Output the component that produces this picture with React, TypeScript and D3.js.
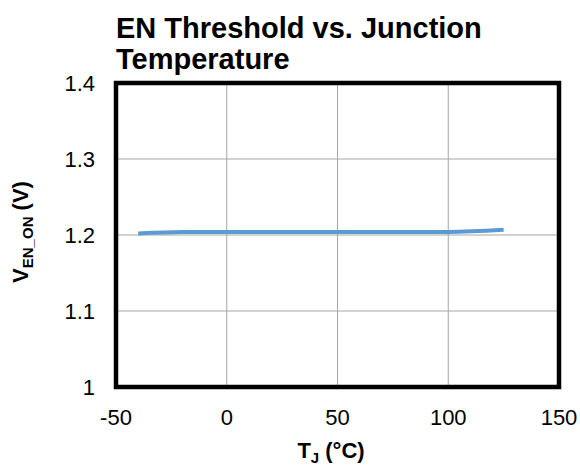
import React from "react";
import * as d3 from "d3";

const temps = [-40, -20, 0, 25, 50, 75, 100, 125];
const venOn = [1.202, 1.204, 1.204, 1.204, 1.204, 1.204, 1.204, 1.2068];
const xTicks = [-50, 0, 50, 100, 150];
const yTicks = [1, 1.1, 1.2, 1.3, 1.4];
const titleLines = ["EN Threshold vs. Junction", "Temperature"];

const FONT = "'Liberation Sans', Arial, sans-serif";

export default function App() {
  const W = 580, H = 466;
  const left = 116, right = 559, top = 83, bottom = 387;
  const x = d3.scaleLinear().domain([-50, 150]).range([left, right]);
  const y = d3.scaleLinear().domain([1, 1.4]).range([bottom, top]);
  const line = d3
    .line<number>()
    .x((_, i) => x(temps[i]))
    .y((d) => y(d))
    .curve(d3.curveMonotoneX);

  return (
    <svg
      width={W}
      height={H}
      style={{ position: "absolute", left: 0, top: 0, background: "#fff" }}
      fontFamily={FONT}
    >
      <rect x={0} y={0} width={W} height={H} fill="#fff" />
      {titleLines.map((t, i) => (
        <text key={i} x={116} y={38 + i * 31} fontSize={29} fontWeight="bold" fill="#000">
          {t}
        </text>
      ))}
      {xTicks.slice(1, -1).map((t) => (
        <line key={"gx" + t} x1={x(t)} x2={x(t)} y1={top} y2={bottom} stroke="#a6a6a6" strokeWidth={1} />
      ))}
      {yTicks.slice(1, -1).map((t) => (
        <line key={"gy" + t} x1={left} x2={right} y1={y(t)} y2={y(t)} stroke="#a6a6a6" strokeWidth={1} />
      ))}
      <path d={line(venOn) || ""} fill="none" stroke="#5b9bd5" strokeWidth={4} strokeLinecap="butt" />
      <rect x={left} y={top} width={right - left} height={bottom - top} fill="none" stroke="#000" strokeWidth={4.5} />
      {xTicks.map((t) => (
        <text key={"xt" + t} x={x(t)} y={425} fontSize={22} textAnchor="middle" fill="#000">
          {t}
        </text>
      ))}
      {yTicks.map((t) => (
        <text key={"yt" + t} x={95} y={y(t) + 7.5} fontSize={22} textAnchor="end" fill="#000">
          {d3.format("")(t)}
        </text>
      ))}
      <text x={331} y={458} fontSize={22} fontWeight="bold" textAnchor="middle" fill="#000">
        T<tspan fontSize={15} dy={5}>J</tspan>
        <tspan dy={-5}> (°C)</tspan>
      </text>
      <text
        transform={`translate(28, 232) rotate(-90)`}
        fontSize={22}
        fontWeight="bold"
        textAnchor="middle"
        fill="#000"
      >
        V<tspan fontSize={15} dy={5}>EN_ON</tspan>
        <tspan dy={-5}> (V)</tspan>
      </text>
    </svg>
  );
}
